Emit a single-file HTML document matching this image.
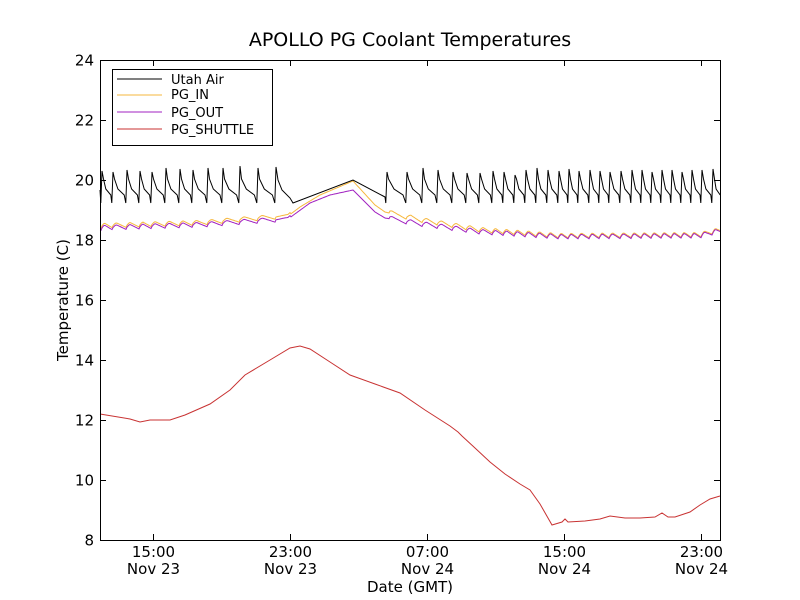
<!DOCTYPE html>
<html><head><meta charset="utf-8"><style>
body{margin:0;background:#fff;}
svg{display:block;font-family:"Liberation Sans","DejaVu Sans",sans-serif;}
</style></head><body>
<svg id="s" width="800" height="600" viewBox="0 0 800 600" xmlns="http://www.w3.org/2000/svg">
<rect width="800" height="600" fill="#fff"/>
<text x="410" y="46" font-size="19" text-anchor="middle" font-family="DejaVu Sans, sans-serif">APOLLO PG Coolant Temperatures</text>
<g id="series" fill="none" stroke-width="1"></g>
<rect x="100.5" y="60.5" width="620" height="480" fill="none" stroke="#000" stroke-width="1"/>
<g id="ticks" stroke="#000" stroke-width="1"></g>
<g id="labels" font-size="15" font-family="DejaVu Sans, sans-serif"></g>
<text x="410" y="592" font-size="15" text-anchor="middle" font-family="DejaVu Sans, sans-serif">Date (GMT)</text>
<text transform="translate(68,300) rotate(-90)" font-size="15" text-anchor="middle" font-family="DejaVu Sans, sans-serif">Temperature (C)</text>
<g font-size="13" font-family="DejaVu Sans, sans-serif">
<rect x="112.5" y="69.5" width="160" height="76" fill="#fff" stroke="#000"/>
<line x1="117" y1="79" x2="162" y2="79" stroke="#000"/><text x="171" y="84">Utah Air</text>
<line x1="117" y1="95" x2="162" y2="95" stroke="#f6b73c"/><text x="171" y="99">PG_IN</text>
<line x1="117" y1="112" x2="162" y2="112" stroke="#a020c0"/><text x="171" y="117">PG_OUT</text>
<line x1="117" y1="129" x2="162" y2="129" stroke="#c83232"/><text x="171" y="134">PG_SHUTTLE</text>
</g>
</svg>
<script>
var NS="http://www.w3.org/2000/svg";
function el(p,t,a,txt){var e=document.createElementNS(NS,t);for(var k in a)e.setAttribute(k,a[k]);if(txt)e.textContent=txt;p.appendChild(e);return e;}
var T=document.getElementById('ticks'),L=document.getElementById('labels'),S=document.getElementById('series');
for(var v=8;v<=24;v+=2){var y=540-(v-8)*30+0.5;el(T,'line',{x1:100,y1:y,x2:106,y2:y});el(T,'line',{x1:714,y1:y,x2:720,y2:y});el(L,'text',{x:94,y:y+5,'text-anchor':'end'},String(v));}
var xt=[[153,'15:00','Nov 23'],[290,'23:00','Nov 23'],[427,'07:00','Nov 24'],[564,'15:00','Nov 24'],[701,'23:00','Nov 24']];
xt.forEach(function(t){var x=t[0]+0.5;el(T,'line',{x1:x,y1:540,x2:x,y2:534});el(T,'line',{x1:x,y1:60,x2:x,y2:66});el(L,'text',{x:x,y:557,'text-anchor':'middle'},t[1]);el(L,'text',{x:x,y:574,'text-anchor':'middle'},t[2]);});
var pk=[102,113,127,140,152,166,180,193,208,223,240,258,276,387,407,423,438,453,467,480,493,504,515,526,537,548,559,569,579,590,600,610,621,632,642,652,662,672,682,692,702,713];
var ph=[171,172,170,171,172,168,169,170,168,168,166,168,167,172,172,168,170,172,173,173,171,172,175,170,168,170,171,169,171,170,171,172,171,170,170,172,170,170,172,170,170,169];
var a=[[100,190]];
for(var i=0;i<pk.length;i++){
 var p=pk[i],py=ph[i];
 a.push([p-1.2,203]);a.push([p,py]);
 var nx=(i+1<pk.length)?pk[i+1]:722;
 if(i==12){a.push([p+2,180]);a.push([p+6,190]);a.push([p+14,198]);a.push([293,203]);a.push([353,180]);a.push([385,197]);continue;}
 var g=nx-p;a.push([p+1.5,179]);a.push([p+g*0.35,189]);a.push([p+g*0.8,195]);
}
function lerp(pts,x){for(var i=0;i<pts.length-1;i++){if(x<=pts[i+1][0]){var t=(x-pts[i][0])/(pts[i+1][0]-pts[i][0]);return pts[i][1]+t*(pts[i+1][1]-pts[i][1]);}}return pts[pts.length-1][1];}
var bin=[[100,226],[200,223],[288,216],[300,207],[320,195],[353,181],[375,205],[385,212],[420,220],[480,230],[560,236],[700,235],[720,230]];
var bout=[[100,228],[200,225],[288,219],[310,203],[330,195],[353,190],[375,212],[385,218],[420,224],[480,232],[560,237],[700,236],[720,231]];
function phase(x){for(var i=0;i<pk.length-1;i++){if(x>=pk[i]&&x<pk[i+1])return (x-pk[i])/(pk[i+1]-pk[i]);}return ((x-pk[pk.length-1])/10)%1;}
function wave(x){if(x>290&&x<390)return 0;var f=phase(x);return f<0.25?-2.6*Math.sin(f/0.25*Math.PI/2):(-2.6+5.2*(f-0.25)/0.75);}
var pin=[],pout=[];
for(var x=100;x<=720;x+=1){var w=wave(x);pin.push([x,lerp(bin,x)+w]);pout.push([x,lerp(bout,x)+w]);}
var red=[[100,414],[130,419],[140,422],[150,420],[170,420],[185,415],[210,404],[230,390],[245,375],[270,360],[290,348],[300,346],[310,349],[330,362],[350,375],[375,384],[400,393],[425,410],[450,426],[458,432],[462,436],[475,448],[490,462],[505,474],[520,484],[530,490],[540,504],[552,525],[562,522],[565,519],[568,522],[585,521],[600,519],[610,516],[625,518],[640,518],[655,517],[662,513],[668,517],[675,517],[690,512],[700,505],[710,499],[720,496]];
function path(pts,col){var d='M'+pts.map(function(p){return p[0].toFixed(1)+','+p[1].toFixed(1);}).join('L');el(S,'path',{d:d,stroke:col});}
path(red,'#c83232');
path(pin,'#f6b73c');
path(pout,'#a020c0');
path(a,'#000');
</script>
</body></html>
